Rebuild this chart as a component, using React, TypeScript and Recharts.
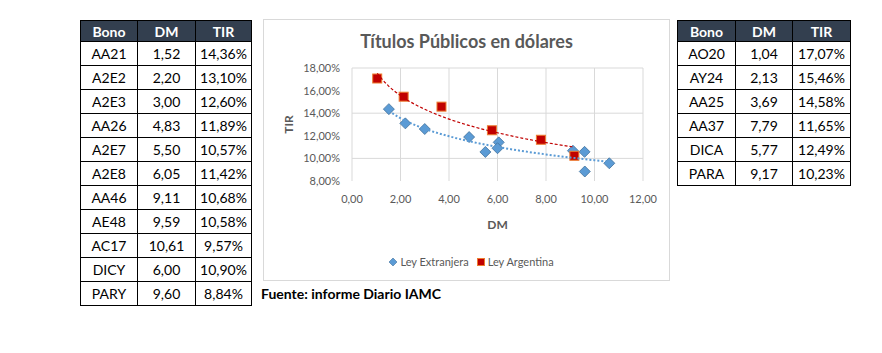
import { ScatterChart, Scatter, XAxis, YAxis, CartesianGrid } from 'recharts';

// Ley Extranjera (left table)
const extBonos = ['AA21', 'A2E2', 'A2E3', 'AA26', 'A2E7', 'A2E8', 'AA46', 'AE48', 'AC17', 'DICY', 'PARY'];
const extDM = [1.52, 2.2, 3.0, 4.83, 5.5, 6.05, 9.11, 9.59, 10.61, 6.0, 9.6];
const extTIR = [14.36, 13.1, 12.6, 11.89, 10.57, 11.42, 10.68, 10.58, 9.57, 10.9, 8.84];

// Ley Argentina (right table)
const argBonos = ['AO20', 'AY24', 'AA25', 'AA37', 'DICA', 'PARA'];
const argDM = [1.04, 2.13, 3.69, 7.79, 5.77, 9.17];
const argTIR = [17.07, 15.46, 14.58, 11.65, 12.49, 10.23];

// trendlines
const extTrendDM = [1.52, 2, 2.5, 3, 4, 5, 6, 7, 8, 9, 10.61];
const extTrendTIR = [14.2, 13.56, 13.04, 12.62, 11.96, 11.44, 11.02, 10.66, 10.35, 10.08, 9.7];
const argTrendDM = [1.04, 1.5, 2, 2.5, 3, 4, 5, 6, 7, 8, 9.17];
const argTrendTIR = [17.52, 16.42, 15.56, 14.89, 14.35, 13.48, 12.81, 12.27, 11.8, 11.4, 11.0];

const xTicks = [0, 2, 4, 6, 8, 10, 12];
const yTicks = [8, 10, 12, 14, 16, 18];

const FONT = "Lato, 'Open Sans', sans-serif";
const GREY = '#595959';
const HEADER_BG = '#333F4F';

const pts = (dm: number[], tir: number[]) => dm.map((d, i) => ({ dm: d, tir: tir[i] }));

const fmtNum = (v: number) => v.toFixed(2).replace('.', ',');
const fmtPct = (v: number) => fmtNum(v) + '%';

const Diamond = (p: any) => (
  <path
    d={`M${p.cx},${p.cy - 5.5}L${p.cx + 5.5},${p.cy}L${p.cx},${p.cy + 5.5}L${p.cx - 5.5},${p.cy}Z`}
    fill="#5B9BD5"
    stroke="#41719C"
    strokeWidth={0.8}
  />
);

const Square = (p: any) => (
  <rect x={p.cx - 4.5} y={p.cy - 4.5} width={9} height={9} fill="#C00000" stroke="#ED7D31" strokeWidth={1} />
);

const NoDot = () => <g />;

function BondTable({ left, widths, bonos, dm, tir }: { left: number; widths: number[]; bonos: string[]; dm: number[]; tir: number[] }) {
  const cell = (w: number, h: number, extra: any) => ({
    width: w,
    height: h,
    boxSizing: 'border-box' as const,
    borderRight: '1px solid #000',
    borderBottom: '1px solid #000',
    display: 'flex',
    alignItems: 'center',
    justifyContent: 'center',
    ...extra,
  });
  const rows = bonos.map((b, i) => [b, fmtNum(dm[i]), fmtPct(tir[i])]);
  return (
    <div style={{ position: 'absolute', left, top: 20, borderLeft: '1px solid #000', borderTop: '1px solid #000', fontFamily: FONT, fontSize: 14 }}>
      <div style={{ display: 'flex' }}>
        {['Bono', 'DM', 'TIR'].map((h, j) => (
          <div key={h} style={cell(widths[j], 21, { background: HEADER_BG, color: '#fff', fontWeight: 700 })}>{h}</div>
        ))}
      </div>
      {rows.map((r) => (
        <div key={r[0]} style={{ display: 'flex' }}>
          {r.map((t, j) => (
            <div key={j} style={cell(widths[j], 24, { color: '#000' })}>{t}</div>
          ))}
        </div>
      ))}
    </div>
  );
}

export default function App() {
  return (
    <div style={{ position: 'relative', width: 882, height: 353, margin: -8, background: '#fff', overflow: 'hidden' }}>
      <div style={{ position: 'absolute', left: 0, top: 0, width: 882, height: 2, background: '#D6DCE5' }} />
      <div style={{ position: 'absolute', left: 0, top: 0, width: 2, height: 353, background: '#D6DCE5' }} />

      <BondTable left={80} widths={[57, 58, 56]} bonos={extBonos} dm={extDM} tir={extTIR} />
      <BondTable left={677} widths={[58, 57, 58]} bonos={argBonos} dm={argDM} tir={argTIR} />

      <div style={{ position: 'absolute', left: 263, top: 19, width: 407, height: 262, boxSizing: 'border-box', border: '1px solid #D9D9D9', fontFamily: FONT }}>
        <div style={{ position: 'absolute', left: 0, top: 10, width: 405, textAlign: 'center', fontSize: 18, fontWeight: 700, color: GREY }}>
          Títulos Públicos en dólares
        </div>
        <ScatterChart width={405} height={260} margin={{ top: 48, right: 26, bottom: 0, left: 0 }}>
          <CartesianGrid stroke="#D9D9D9" horizontalValues={yTicks} verticalValues={xTicks} />
          <XAxis
            type="number"
            dataKey="dm"
            domain={[0, 12]}
            ticks={xTicks}
            tickFormatter={fmtNum}
            axisLine={false}
            tickLine={false}
            tickMargin={8}
            height={99}
            tick={{ fill: GREY, fontSize: 11, fontFamily: FONT }}
            label={{ value: 'DM', position: 'insideTop', offset: 39, fill: GREY, fontSize: 12, fontWeight: 700, fontFamily: FONT }}
          />
          <YAxis
            type="number"
            dataKey="tir"
            domain={[8, 18]}
            ticks={yTicks}
            tickFormatter={fmtPct}
            axisLine={false}
            tickLine={false}
            tickMargin={6}
            width={88}
            tick={{ fill: GREY, fontSize: 11, fontFamily: FONT }}
            label={{ value: 'TIR', angle: -90, position: 'insideLeft', offset: 25, fill: GREY, fontSize: 12, fontWeight: 700, fontFamily: FONT, style: { textAnchor: 'middle' } }}
          />
          <Scatter name="Ley Extranjera" data={pts(extDM, extTIR)} shape={Diamond} isAnimationActive={false} />
          <Scatter name="Ley Argentina" data={pts(argDM, argTIR)} shape={Square} isAnimationActive={false} />
          <Scatter
            data={pts(extTrendDM, extTrendTIR)}
            shape={NoDot}
            line={{ stroke: '#5B9BD5', strokeWidth: 2, strokeDasharray: '2 2' }}
            lineJointType="monotoneX"
            isAnimationActive={false}
          />
          <Scatter
            data={pts(argTrendDM, argTrendTIR)}
            shape={NoDot}
            line={{ stroke: '#C00000', strokeWidth: 1.2, strokeDasharray: '3 2' }}
            lineJointType="monotoneX"
            isAnimationActive={false}
          />
        </ScatterChart>
        <div style={{ position: 'absolute', left: 0, top: 235, width: 405, display: 'flex', justifyContent: 'center', alignItems: 'center', fontSize: 11, color: GREY, paddingLeft: 10, boxSizing: 'border-box' }}>
          <svg width={8} height={8} style={{ marginRight: 3 }}>
            <path d="M4,0L8,4L4,8L0,4Z" fill="#5B9BD5" stroke="#41719C" strokeWidth={0.6} />
          </svg>
          <span style={{ marginRight: 8 }}>Ley Extranjera</span>
          <svg width={8} height={8} style={{ marginRight: 3 }}>
            <rect x={0.5} y={0.5} width={7} height={7} fill="#C00000" stroke="#ED7D31" strokeWidth={1} />
          </svg>
          <span>Ley Argentina</span>
        </div>
      </div>

      <div style={{ position: 'absolute', left: 261, top: 285, fontFamily: FONT, fontSize: 14, fontWeight: 700, color: '#000' }}>
        Fuente: informe Diario IAMC
      </div>
    </div>
  );
}
